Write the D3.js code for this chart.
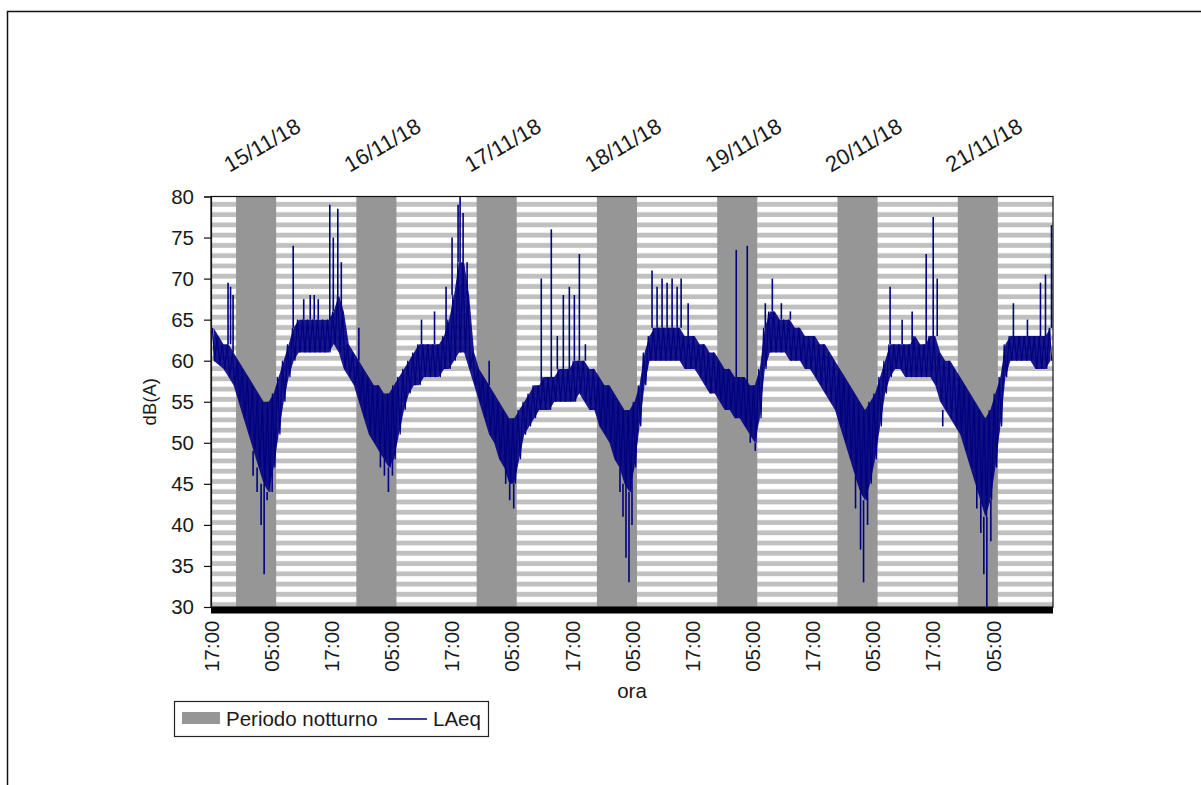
<!DOCTYPE html>
<html>
<head>
<meta charset="utf-8">
<script src="https://cdn.jsdelivr.net/npm/d3@7"></script>
<style>
    body { margin: 0; background: #fff; }
    svg text { font-family: 'Liberation Sans', Arial, sans-serif; fill: #1a1a1a; }
</style>
</head>
<body>
<div id="chart-container"></div>
<script>
// LAeq: the dense band (upper / lower edge) for every hour, starting 14/11/18 17:00
const coreHigh = [
    64, 63, 62, 62, 61, 60, 59, 58, 57, 56, 55, 55, 56, 58, 60, 62, 64, 65, 65, 65, 65, 65, 65, 65,
    66, 68, 66, 62, 61, 60, 59, 58, 57, 57, 56, 56, 57, 58, 59, 60, 61, 62, 62, 62, 62, 62, 63, 65,
    68, 72, 72, 68, 61, 59, 58, 57, 56, 55, 54, 53, 53, 54, 55, 56, 57, 57, 58, 58, 58, 59, 59, 59,
    60, 60, 60, 59, 59, 58, 57, 57, 56, 55, 54, 54, 55, 57, 61, 63, 64, 64, 64, 64, 64, 64, 63, 63,
    63, 62, 62, 61, 61, 60, 59, 59, 58, 58, 58, 57, 57, 59, 64, 66, 66, 65, 65, 65, 64, 64, 63, 63,
    63, 62, 62, 61, 60, 59, 58, 57, 56, 55, 54, 55, 56, 58, 60, 62, 62, 62, 62, 62, 63, 62, 62, 63,
    63, 61, 60, 60, 59, 58, 57, 56, 55, 54, 53, 54, 56, 58, 62, 63, 63, 63, 63, 63, 63, 63, 63, 64
];
const coreLow = [
    60, 59.5, 59, 58, 57, 55, 53, 51, 49, 47, 45, 44, 47, 51, 55, 58, 60, 61, 61, 61, 61, 61, 61, 61,
    62, 61, 59, 58, 57, 55, 53, 51, 50, 49, 48, 47, 48, 51, 54, 56, 57, 57, 58, 58, 58, 58, 59, 59,
    60, 61, 61, 59, 57, 55, 53, 51, 50, 48, 47, 45, 45, 48, 51, 52, 53, 54, 54, 54, 55, 55, 55, 55,
    55, 56, 55, 54, 54, 52, 51, 50, 48, 47, 45, 44, 47, 52, 57, 60, 60, 60, 60, 60, 60, 60, 59, 59,
    59, 58, 57, 56, 56, 55, 54, 54, 53, 53, 52, 51, 50, 53, 59, 61, 61, 61, 61, 60, 60, 60, 59, 59,
    58, 57, 56, 55, 54, 52, 50, 48, 46, 44, 43, 45, 48, 52, 56, 58, 59, 59, 58, 58, 58, 58, 58, 58,
    57, 55, 54, 53, 52, 51, 49, 47, 45, 43, 41, 43, 47, 52, 58, 60, 60, 60, 60, 60, 59, 59, 59, 60
];

// single readings far outside the band: [hours after 14/11/18 17:00, dB(A)]
const spikes = [
    [3.4, 69.5], [3.9, 69], [4.4, 68], [16.4, 74], [18.5, 67.5], [19.8, 68], [20.6, 68], [21.4, 67.5],
    [23.7, 79], [24.4, 75], [25.3, 78.5], [26, 72], [29.5, 64], [42, 65], [44.6, 66], [46.9, 69],
    [48.1, 75], [49.3, 79], [49.7, 80], [50.3, 78], [51.1, 72], [55.5, 60], [65.9, 70], [67.9, 76],
    [69.1, 63], [70.3, 68], [71.5, 69], [72.5, 68], [73.5, 73], [74.7, 62], [88, 71], [89, 69],
    [90, 70], [91, 69.5], [92, 70], [93, 69], [93.8, 70], [95.2, 67], [104.8, 73.5], [107, 74],
    [110.6, 67], [112, 70], [113.8, 67], [115.6, 66], [135.5, 69], [137.9, 65], [139.9, 66],
    [142.7, 73], [144.1, 77.5], [144.9, 70], [160.1, 67], [162.9, 65], [165.5, 69.5], [166.5, 70.5],
    [167.7, 76.5],
    [8.4, 46], [9.2, 44], [10, 40], [10.6, 34], [11.2, 43], [12.2, 44], [33.8, 47], [34.6, 46],
    [35.4, 44], [36.2, 46], [58.8, 45], [59.6, 43], [60.4, 42], [81.6, 44], [82.2, 41], [82.8, 36],
    [83.4, 33], [84, 40], [107.6, 50], [108.6, 49], [128.6, 42], [129.6, 37], [130.2, 33], [131, 40],
    [146, 52], [152.8, 42], [153.6, 39], [154.2, 34], [154.8, 30], [155.6, 38]
];

// night periods (Periodo notturno), 22:00 -> 06:00
const nightStarts = ['2018-11-14 22:00', '2018-11-15 22:00', '2018-11-16 22:00', '2018-11-17 22:00',
    '2018-11-18 22:00', '2018-11-19 22:00', '2018-11-20 22:00'];
const nightHours = 8;

const dayDates = ['2018-11-15 00:00', '2018-11-16 00:00', '2018-11-17 00:00', '2018-11-18 00:00',
    '2018-11-19 00:00', '2018-11-20 00:00', '2018-11-21 00:00'];
const dayLabels = ['15/11/18', '16/11/18', '17/11/18', '18/11/18', '19/11/18', '20/11/18', '21/11/18'];

const yTicks = [30, 35, 40, 45, 50, 55, 60, 65, 70, 75, 80];
const xTickHours = [0, 12, 24, 36, 48, 60, 72, 84, 96, 108, 120, 132, 144, 156];

const parseTime = d3.timeParse('%Y-%m-%d %H:%M');
const startTime = parseTime('2018-11-14 17:00');
const endTime = parseTime('2018-11-21 17:00');
const hourMs = 3600 * 1000;
const atHour = h => new Date(+startTime + h * hourMs);

const width = 1201, height = 785;
const plot = {left: 211, top: 196.5, right: 1053, bottom: 607};
const fontSize = 20.5;
const navy = '#000080';

const svg = d3.select('#chart-container').append('svg')
    .attr('width', width)
    .attr('height', height);

const xScale = d3.scaleTime()
    .domain([startTime, endTime])
    .range([plot.left, plot.right]);

const yScale = d3.scaleLinear()
    .domain([30, 80])
    .range([plot.bottom, plot.top]);

// outer frame (runs past the right / bottom edge)
svg.append('rect')
    .attr('x', 7.5).attr('y', 11.5)
    .attr('width', width + 20).attr('height', height + 20)
    .style('fill', '#fff')
    .style('stroke', '#111')
    .style('stroke-width', 1.5);

// striped plot background
const stripeStep = yScale(78.75) - yScale(80);
const pattern = svg.append('defs').append('pattern')
    .attr('id', 'stripes')
    .attr('patternUnits', 'userSpaceOnUse')
    .attr('x', 0).attr('y', plot.top)
    .attr('width', 20).attr('height', stripeStep);
pattern.append('rect')
    .attr('width', 20).attr('height', stripeStep)
    .style('fill', '#fff');
pattern.append('rect')
    .attr('y', stripeStep * 0.53).attr('width', 20).attr('height', stripeStep * 0.47)
    .style('fill', '#c0c0c0');

svg.append('rect')
    .attr('x', plot.left).attr('y', plot.top)
    .attr('width', plot.right - plot.left).attr('height', plot.bottom - plot.top)
    .style('fill', 'url(#stripes)');

// night bars
svg.append('g')
    .selectAll('rect')
    .data(nightStarts.map(parseTime))
    .enter()
    .append('rect')
    .attr('x', d => xScale(d))
    .attr('y', yScale(80))
    .attr('width', d => xScale(new Date(+d + nightHours * hourMs)) - xScale(d))
    .attr('height', yScale(30) - yScale(80))
    .style('fill', '#969696');

// LAeq trace
const trace = svg.append('g');

const bandData = coreHigh.map((hi, i) => ({t: atHour(i + 0.5), hi, lo: coreLow[i]}));

const area = d3.area()
    .x(d => xScale(d.t))
    .y0(d => yScale(d.lo))
    .y1(d => yScale(d.hi));

trace.append('path')
    .datum(bandData)
    .attr('d', area)
    .style('fill', navy)
    .style('fill-opacity', 0.9);

// ragged edge of the band: top and bottom of each hour in turn
const zigzag = coreHigh.flatMap((hi, i) => [
    {t: atHour(i + 0.25), v: hi},
    {t: atHour(i + 0.75), v: coreLow[i]}
]);

const line = d3.line()
    .x(d => xScale(d.t))
    .y(d => yScale(d.v));

trace.append('path')
    .datum(zigzag)
    .attr('d', line)
    .style('fill', 'none')
    .style('stroke', navy)
    .style('stroke-width', 1.2);

// single spikes, drawn from the band edge
trace.selectAll('line')
    .data(spikes)
    .enter()
    .append('line')
    .attr('x1', d => xScale(atHour(d[0])))
    .attr('x2', d => xScale(atHour(d[0])))
    .attr('y1', d => {
        const i = Math.min(Math.floor(d[0]), coreHigh.length - 1);
        return yScale(d[1] > coreHigh[i] ? coreHigh[i] : coreLow[i]);
    })
    .attr('y2', d => yScale(d[1]))
    .style('stroke', navy)
    .style('stroke-width', 1.6);

// plot border
svg.append('rect')
    .attr('x', plot.left).attr('y', plot.top)
    .attr('width', plot.right - plot.left).attr('height', plot.bottom - plot.top)
    .style('fill', 'none')
    .style('stroke', '#111')
    .style('stroke-width', 1.2);

// heavy band under the plot
svg.append('rect')
    .attr('x', plot.left).attr('y', plot.bottom)
    .attr('width', plot.right - plot.left).attr('height', 6.5)
    .style('fill', '#000');

// y axis
const yAxis = d3.axisLeft(yScale)
    .tickValues(yTicks)
    .tickSize(7)
    .tickPadding(10);

const gy = svg.append('g')
    .attr('transform', `translate(${plot.left},0)`)
    .call(yAxis);
gy.select('.domain').style('stroke', '#111').style('stroke-width', 1.2);
gy.selectAll('.tick line').style('stroke', '#111').style('stroke-width', 1.2);
gy.selectAll('text')
    .style('font-size', fontSize + 'px')
    .style('font-family', "'Liberation Sans', Arial, sans-serif")
    .attr('fill', '#1a1a1a');

// x axis, labels turned upright
const xAxis = d3.axisBottom(xScale)
    .tickValues(xTickHours.map(atHour))
    .tickSize(0)
    .tickFormat(d3.timeFormat('%H:%M'));

const gx = svg.append('g')
    .attr('transform', `translate(0,${plot.bottom + 6.5})`)
    .call(xAxis);
gx.select('.domain').remove();
gx.selectAll('text')
    .attr('transform', 'rotate(-90)')
    .attr('x', -7)
    .attr('y', 0)
    .attr('dy', '0.35em')
    .attr('text-anchor', 'end')
    .attr('fill', '#1a1a1a')
    .style('font-size', fontSize + 'px')
    .style('font-family', "'Liberation Sans', Arial, sans-serif");

// dates above the plot
svg.append('g')
    .selectAll('text')
    .data(dayDates.map(parseTime))
    .enter()
    .append('text')
    .text((d, i) => dayLabels[i])
    .attr('transform', d => `translate(${xScale(d) + 16},145) rotate(-30)`)
    .attr('text-anchor', 'middle')
    .attr('dy', '0.35em')
    .style('font-size', '22px');

// axis titles
svg.append('text')
    .text('dB(A)')
    .attr('transform', `translate(150,${(plot.top + plot.bottom) / 2}) rotate(-90)`)
    .attr('text-anchor', 'middle')
    .attr('dy', '0.35em')
    .style('font-size', '18.5px');

svg.append('text')
    .text('ora')
    .attr('x', (plot.left + plot.right) / 2)
    .attr('y', 698)
    .attr('text-anchor', 'middle')
    .style('font-size', fontSize + 'px');

// legend
const legend = svg.append('g');
legend.append('rect')
    .attr('x', 174.5).attr('y', 701.5)
    .attr('width', 314).attr('height', 35)
    .style('fill', '#fff')
    .style('stroke', '#222')
    .style('stroke-width', 1.2);
legend.append('rect')
    .attr('x', 182).attr('y', 712)
    .attr('width', 38).attr('height', 12)
    .style('fill', '#969696');
legend.append('text')
    .text('Periodo notturno')
    .attr('x', 226).attr('y', 726)
    .style('font-size', fontSize + 'px');
legend.append('line')
    .attr('x1', 388).attr('x2', 427)
    .attr('y1', 719).attr('y2', 719)
    .style('stroke', navy)
    .style('stroke-width', 1.5);
legend.append('text')
    .text('LAeq')
    .attr('x', 433).attr('y', 726)
    .style('font-size', fontSize + 'px');
</script>
</body>
</html>
